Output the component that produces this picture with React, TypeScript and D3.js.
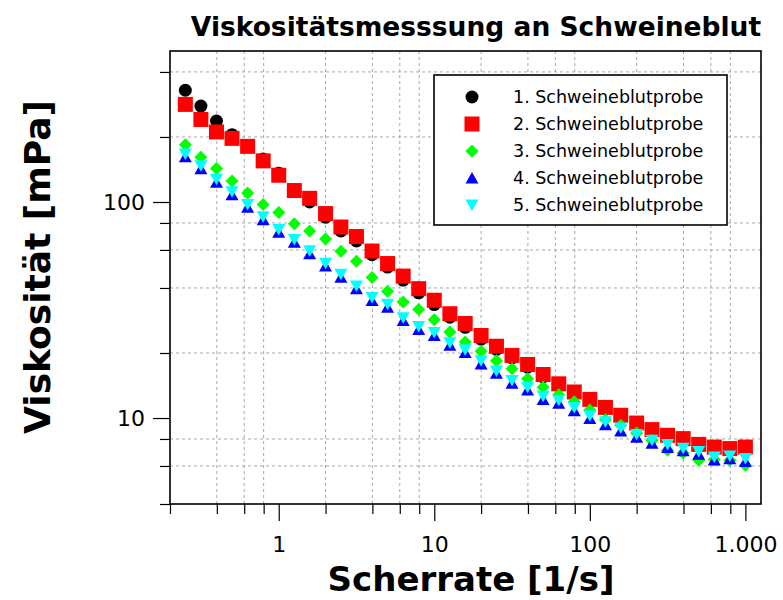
import React, { useEffect, useRef } from "react";
import * as d3 from "d3";

// Scherrate [1/s]
const shearRates = [
  0.251, 0.316, 0.398, 0.501, 0.631, 0.794, 1, 1.26, 1.58, 2, 2.51, 3.16, 3.98,
  5.01, 6.31, 7.94, 10, 12.6, 15.8, 20, 25.1, 31.6, 39.8, 50.1, 63.1, 79.4, 100,
  126, 158, 200, 251, 316, 398, 501, 631, 794, 1000,
];

// Viskosität [mPa] per Probe
const probe1 = [
  329, 278, 237, 205, 180, 158, 136, 114, 100, 85, 73.5, 66, 57, 50, 43.5, 38,
  33.5, 29.3, 26.3, 23.2, 20.8, 19, 17.2, 15.5, 14.1, 13, 12, 11.1, 10.2, 9.4,
  8.8, 8.3, 8.0, 7.55, 7.3, 7.25, 7.3,
];
const probe2 = [
  283, 241, 211, 197, 181, 155, 133, 113, 104, 88.4, 76.6, 69.2, 59.3, 51.9,
  45.4, 39.7, 35.1, 30.4, 27.4, 24.1, 21.5, 19.5, 17.7, 15.9, 14.4, 13.2, 12.2,
  11.2, 10.3, 9.48, 8.84, 8.32, 8.03, 7.55, 7.34, 7.22, 7.34,
];
const probe3 = [
  184, 161, 143, 125, 110, 97.3, 89.3, 79.4, 73.4, 67.4, 59.1, 53.2, 44.7,
  38.6, 34.4, 31.8, 28.5, 25, 22.5, 20.4, 18.4, 16.9, 15.2, 13.9, 12.8, 11.9,
  10.9, 9.81, 9.25, 8.52, 7.88, 7.09, 6.89, 6.37, 6.42, 6.37, 6.04,
];
const probe4 = [
  162, 142.5, 123.5, 108, 94.5, 82.8, 72.4, 65.1, 57.6, 50.5, 44.9, 39.7, 35,
  32.6, 28.3, 25.7, 24.1, 21.7, 20.1, 17.8, 16.1, 14.5, 13.5, 12.2, 11.7, 10.8,
  9.95, 9.3, 8.7, 8.15, 7.65, 7.3, 7.05, 6.8, 6.4, 6.48, 6.3,
];
const probe5 = [
  167, 147, 127.3, 111.4, 97.5, 85.4, 74.6, 67.1, 59.4, 52.1, 46.3, 40.9, 36.1,
  33.6, 29.1, 26.5, 24.9, 22.3, 20.7, 18.4, 16.5, 14.9, 13.9, 12.6, 12.1, 11.2,
  10.25, 9.6, 9.0, 8.4, 7.9, 7.55, 7.25, 7.0, 6.6, 6.68, 6.5,
];

const seriesNames = [
  "1. Schweineblutprobe",
  "2. Schweineblutprobe",
  "3. Schweineblutprobe",
  "4. Schweineblutprobe",
  "5. Schweineblutprobe",
];
const seriesColors = ["#000000", "#ff0000", "#00ff00", "#0000ff", "#00ffff"];
const seriesShapes = ["circle", "square", "diamond", "triangleUp", "triangleDown"];

const xMajorTicks = [1, 10, 100, 1000];
const xTickLabels = ["1", "10", "100", "1.000"];
const xMinorTicks = [0.2, 0.4, 0.6, 0.8, 2, 4, 6, 8, 20, 40, 60, 80, 200, 400, 600, 800];
const yMajorTicks = [10, 100];
const yTickLabels = ["10", "100"];
const yMinorTicks = [4, 6, 8, 20, 40, 60, 80, 200, 400];

const font = "'DejaVu Sans', Verdana, sans-serif";

function markerPath(shape: string): string {
  switch (shape) {
    case "square":
      return "M-7.5,-7.5H7.5V7.5H-7.5Z";
    case "diamond":
      return "M0,-6.5L6.5,0L0,6.5L-6.5,0Z";
    case "triangleUp":
      return "M0,-6L6.5,5.5H-6.5Z";
    case "triangleDown":
      return "M0,6L6.5,-5.5H-6.5Z";
    default:
      return "M6.5,0A6.5,6.5 0 1,1 -6.5,0A6.5,6.5 0 1,1 6.5,0Z";
  }
}

export default function App() {
  const svgRef = useRef<SVGSVGElement>(null);
  const width = 783;
  const height = 600;

  useEffect(() => {
    if (!svgRef.current) return;
    const svg = d3.select(svgRef.current);
    svg.selectAll("*").remove();

    const left = 170;
    const right = 761;
    const top = 51;
    const bottom = 504;

    const x = d3.scaleLog().domain([0.2, 1260]).range([left, right]);
    const y = d3.scaleLog().domain([4, 500]).range([bottom, top]);

    svg.append("rect").attr("width", width).attr("height", height).attr("fill", "#fff");

    // Grid (only at minor values)
    const grid = svg.append("g").attr("stroke", "#a8a8a8").attr("stroke-dasharray", "3,3");
    grid
      .selectAll("line.gx")
      .data(xMinorTicks.filter((d) => d > 0.2))
      .enter()
      .append("line")
      .attr("x1", (d) => x(d))
      .attr("x2", (d) => x(d))
      .attr("y1", top)
      .attr("y2", bottom);
    grid
      .selectAll("line.gy")
      .data(yMinorTicks.filter((d) => d > 4))
      .enter()
      .append("line")
      .attr("x1", left)
      .attr("x2", right)
      .attr("y1", (d) => y(d))
      .attr("y2", (d) => y(d));

    // Axes
    const styleAxis = (g: any) => {
      g.select(".domain").remove();
      g.selectAll(".tick line").attr("stroke", "#000").attr("stroke-width", 1.2);
      g.selectAll("text")
        .attr("fill", "#000")
        .attr("font-family", font)
        .attr("font-size", 22);
    };

    svg
      .append("g")
      .attr("transform", `translate(0,${bottom})`)
      .call(d3.axisBottom(x).tickValues(xMinorTicks).tickSize(10).tickFormat(() => ""))
      .call(styleAxis);
    svg
      .append("g")
      .attr("transform", `translate(0,${bottom})`)
      .call(
        d3
          .axisBottom(x)
          .tickValues(xMajorTicks)
          .tickSize(17)
          .tickPadding(15)
          .tickFormat((d, i) => xTickLabels[i])
      )
      .call(styleAxis);

    svg
      .append("g")
      .attr("transform", `translate(${left},0)`)
      .call(d3.axisLeft(y).tickValues(yMinorTicks).tickSize(10).tickFormat(() => ""))
      .call(styleAxis);
    svg
      .append("g")
      .attr("transform", `translate(${left},0)`)
      .call(
        d3
          .axisLeft(y)
          .tickValues(yMajorTicks)
          .tickSize(17)
          .tickPadding(8)
          .tickFormat((d, i) => yTickLabels[i])
      )
      .call(styleAxis);

    // Data
    const allSeries = [probe1, probe2, probe3, probe4, probe5];
    allSeries.forEach((values, s) => {
      svg
        .append("g")
        .selectAll("path")
        .data(values)
        .enter()
        .append("path")
        .attr("transform", (d, i) => `translate(${x(shearRates[i])},${y(d)})`)
        .attr("d", markerPath(seriesShapes[s]))
        .attr("fill", seriesColors[s]);
    });

    // Frame
    svg
      .append("rect")
      .attr("x", left)
      .attr("y", top)
      .attr("width", right - left)
      .attr("height", bottom - top)
      .attr("fill", "none")
      .attr("stroke", "#000")
      .attr("stroke-width", 1.6);

    // Legend
    const legend = svg.append("g");
    legend
      .append("rect")
      .attr("x", 434)
      .attr("y", 75)
      .attr("width", 293)
      .attr("height", 150)
      .attr("fill", "#fff")
      .attr("stroke", "#000")
      .attr("stroke-width", 1.6);
    seriesNames.forEach((name, s) => {
      const ly = 97 + s * 27;
      legend
        .append("path")
        .attr("transform", `translate(472,${ly})`)
        .attr("d", markerPath(seriesShapes[s]))
        .attr("fill", seriesColors[s]);
      legend
        .append("text")
        .attr("x", 513)
        .attr("y", ly)
        .attr("dy", "0.36em")
        .attr("font-family", font)
        .attr("font-size", 17.5)
        .attr("fill", "#000")
        .text(name);
    });

    // Titles
    svg
      .append("text")
      .attr("x", 476)
      .attr("y", 36)
      .attr("text-anchor", "middle")
      .attr("font-family", font)
      .attr("font-weight", "bold")
      .attr("font-size", 26.5)
      .text("Viskositätsmesssung an Schweineblut");

    svg
      .append("text")
      .attr("x", 471)
      .attr("y", 591)
      .attr("text-anchor", "middle")
      .attr("font-family", font)
      .attr("font-weight", "bold")
      .attr("font-size", 34)
      .text("Scherrate [1/s]");

    svg
      .append("text")
      .attr("transform", "translate(37,267) rotate(-90)")
      .attr("text-anchor", "middle")
      .attr("dominant-baseline", "central")
      .attr("font-family", font)
      .attr("font-weight", "bold")
      .attr("font-size", 36)
      .text("Viskosität [mPa]");
  }, []);

  return (
    <svg
      ref={svgRef}
      width={width}
      height={height}
      style={{ position: "absolute", left: 0, top: 0 }}
    />
  );
}
